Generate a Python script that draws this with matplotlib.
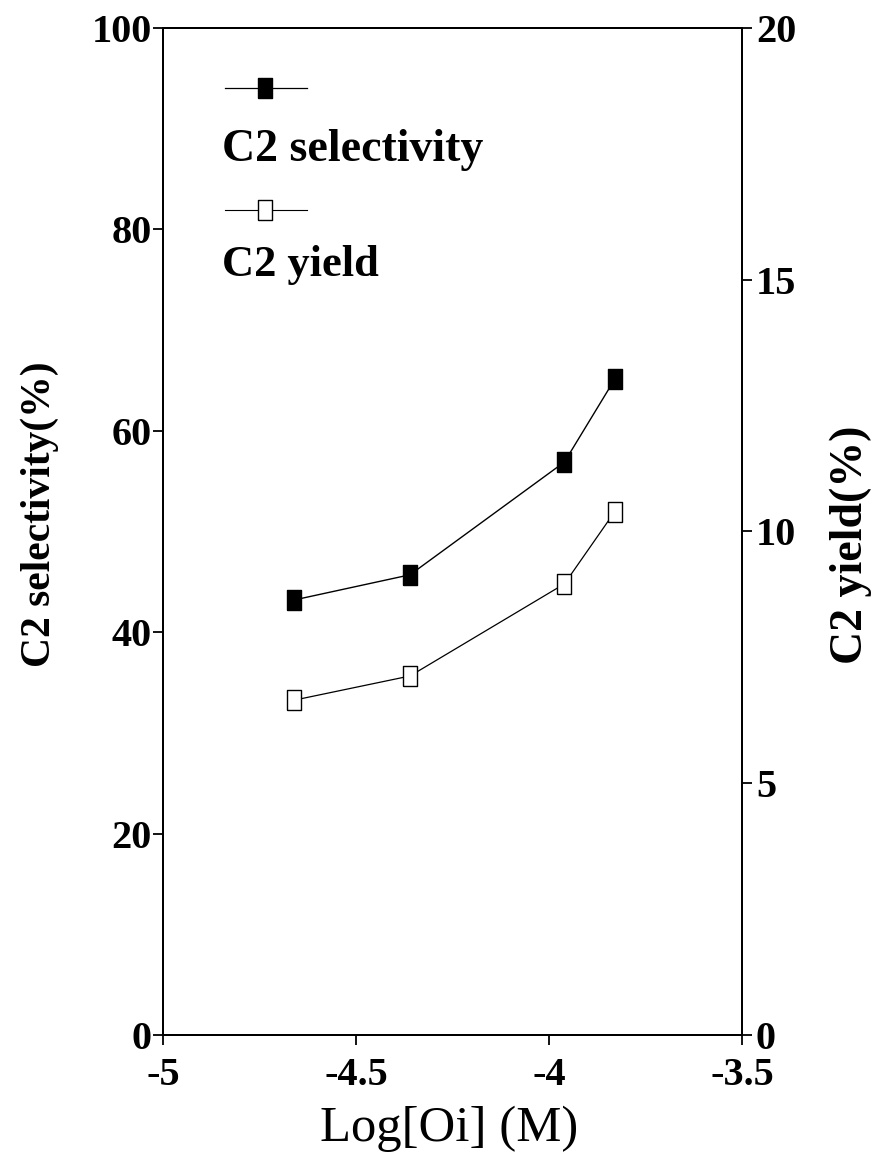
import numpy as np
from matplotlib import pyplot as plt
from matplotlib.lines import Line2D

plt.rcParams['font.family'] = ['Liberation Serif', 'DejaVu Serif']
plt.rcParams['axes.unicode_minus'] = False

# data
logOi = [-4.66, -4.36, -3.96, -3.83]
selectivity = [43.2, 45.7, 56.9, 65.1]
yieldC2 = [6.65, 7.13, 8.96, 10.39]

xTicks = [-5, -4.5, -4, -3.5]
xTickLabels = ['-5', '-4.5', '-4', '-3.5']
leftTicks = [0, 20, 40, 60, 80, 100]
rightTicks = [0, 5, 10, 15, 20]

# tall rectangle marker
rect = [(-0.34, -0.5), (0.34, -0.5), (0.34, 0.5), (-0.34, 0.5), (-0.34, -0.5)]

fig = plt.figure(figsize=(8.74, 11.56), dpi=100)
ax = fig.add_axes([0.1865, 0.1047, 0.6625, 0.8711])
ax2 = ax.twinx()

ax.plot(logOi, selectivity, color='black', lw=1.0, marker=rect, ms=14,
        mfc='black', mec='black', mew=1.0)
ax2.plot(logOi, yieldC2, color='black', lw=0.9, marker=rect, ms=14,
         mfc='white', mec='black', mew=1.0)

ax.set_xlim(-5, -3.5)
ax.set_ylim(0, 100)
ax2.set_ylim(0, 20)
ax.set_xticks(xTicks)
ax.set_xticklabels(xTickLabels)
ax.set_yticks(leftTicks)
ax2.set_yticks(rightTicks)

for a in (ax, ax2):
    for s in a.spines.values():
        s.set_linewidth(1.4)
    a.tick_params(direction='out', length=7, width=1.3, labelsize=29)
    for lab in a.get_xticklabels() + a.get_yticklabels():
        lab.set_fontweight('bold')
ax.tick_params(axis='y', pad=1)
ax.tick_params(axis='x', pad=9)
ax2.tick_params(axis='y', pad=3)

fig.text(0.046, 0.555, 'C2 selectivity(%)', rotation=90, ha='center', va='center',
         fontsize=30, fontweight='bold')
fig.text(0.974, 0.5285, 'C2 yield(%)', rotation=90, ha='center', va='center',
         fontsize=33, fontweight='bold')
fig.text(0.514, 0.024, 'Log[Oi] (M)', ha='center', va='center', fontsize=36.5)

# legend: sample line above its label
ax.add_line(Line2D([0.107, 0.249], [0.9404, 0.9404], transform=ax.transAxes,
                   color='black', lw=0.9))
ax.add_line(Line2D([0.176], [0.9404], transform=ax.transAxes, color='black',
                   marker=rect, ms=14, mfc='black', mec='black', ls='none'))
ax.text(0.102, 0.8788, 'C2 selectivity', transform=ax.transAxes, ha='left',
        va='center', fontsize=33, fontweight='bold')
ax.add_line(Line2D([0.107, 0.249], [0.8193, 0.8193], transform=ax.transAxes,
                   color='black', lw=0.8))
ax.add_line(Line2D([0.176], [0.8193], transform=ax.transAxes, color='black',
                   marker=rect, ms=14, mfc='white', mec='black', mew=1.0, ls='none'))
ax.text(0.102, 0.7646, 'C2 yield', transform=ax.transAxes, ha='left',
        va='center', fontsize=32, fontweight='bold')

fig.savefig('out.png', dpi=100)
